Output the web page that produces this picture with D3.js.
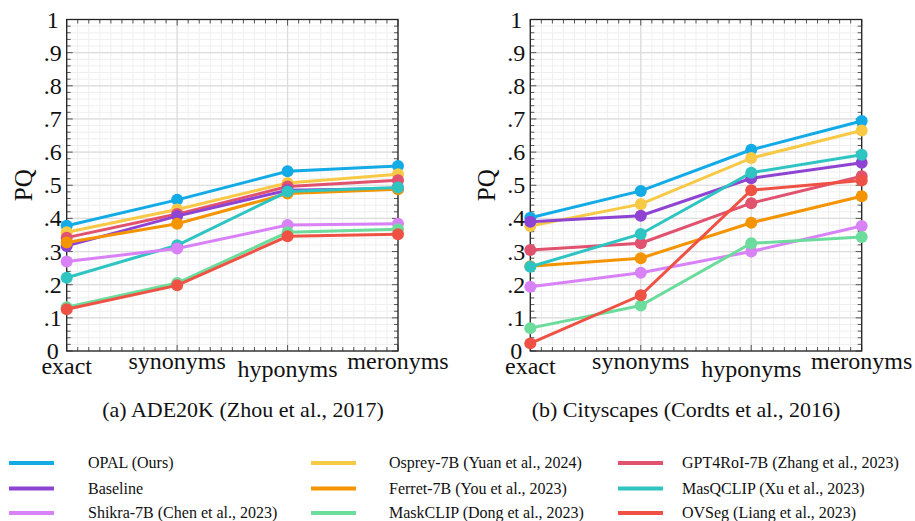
<!DOCTYPE html>
<html>
<head>
<meta charset="utf-8">
<script src="https://cdn.jsdelivr.net/npm/d3@7"></script>
</head>
<body style="margin:0">
<div id="chart"></div>
<script>
// categories and tick labels
const categories = ["exact", "synonyms", "hyponyms", "meronyms"];
const yTicks = [0, 0.1, 0.2, 0.3, 0.4, 0.5, 0.6, 0.7, 0.8, 0.9, 1];
const yTickLabels = ["0", ".1", ".2", ".3", ".4", ".5", ".6", ".7", ".8", ".9", "1"];

// series names (legend order, column by column)
const seriesNames = [
    "OPAL (Ours)", "Baseline", "Shikra-7B (Chen et al., 2023)",
    "Osprey-7B (Yuan et al., 2024)", "Ferret-7B (You et al., 2023)", "MaskCLIP (Dong et al., 2023)",
    "GPT4RoI-7B (Zhang et al., 2023)", "MasQCLIP (Xu et al., 2023)", "OVSeg (Liang et al., 2023)"
];
const seriesColors = [
    "#12abe6", "#8e43d2", "#d982f7",
    "#f8c945", "#f39400", "#6cdc9c",
    "#e0526e", "#2ec4c2", "#ef5245"
];

// ADE20K values
const adeOpal     = [0.378, 0.456, 0.542, 0.558];
const adeBaseline = [0.317, 0.407, 0.485, 0.490];
const adeShikra   = [0.270, 0.309, 0.380, 0.384];
const adeOsprey   = [0.358, 0.427, 0.507, 0.533];
const adeFerret   = [0.327, 0.384, 0.475, 0.488];
const adeMaskclip = [0.132, 0.205, 0.358, 0.367];
const adeGpt4roi  = [0.342, 0.413, 0.496, 0.515];
const adeMasqclip = [0.221, 0.319, 0.481, 0.493];
const adeOvseg    = [0.126, 0.198, 0.346, 0.352];

// Cityscapes values
const cityOpal     = [0.402, 0.483, 0.607, 0.694];
const cityBaseline = [0.390, 0.408, 0.521, 0.568];
const cityShikra   = [0.194, 0.236, 0.300, 0.377];
const cityOsprey   = [0.377, 0.443, 0.582, 0.665];
const cityFerret   = [0.256, 0.280, 0.387, 0.467];
const cityMaskclip = [0.069, 0.137, 0.325, 0.344];
const cityGpt4roi  = [0.305, 0.325, 0.446, 0.527];
const cityMasqclip = [0.254, 0.353, 0.538, 0.592];
const cityOvseg    = [0.023, 0.168, 0.485, 0.514];

const adeSeries = [adeOpal, adeBaseline, adeShikra, adeOsprey, adeFerret, adeMaskclip, adeGpt4roi, adeMasqclip, adeOvseg];
const citySeries = [cityOpal, cityBaseline, cityShikra, cityOsprey, cityFerret, cityMaskclip, cityGpt4roi, cityMasqclip, cityOvseg];

// drawing order (bottom to top), as indices into seriesNames
const drawOrder = [0, 3, 6, 1, 4, 7, 2, 5, 8];

const width = 915, height = 521;
const svg = d3.select("#chart").append("svg")
    .attr("width", width)
    .attr("height", height)
    .style("display", "block");

// serif text helper, size in px
function label(sel, size) {
    return sel
        .style("font", `${size}px 'Liberation Serif', 'Times New Roman', monospace`)
        .attr("fill", "#111");
}

function drawPanel(left, right, series, caption, captionX) {
    const top = 19.5, bottom = 351;
    const x = d3.scalePoint().domain(categories).range([left, right]);
    const xi = d3.scaleLinear().domain([0, categories.length - 1]).range([left, right]);
    const y = d3.scaleLinear().domain([0, 1]).range([bottom, top]);

    const g = svg.append("g");

    const minorX = d3.range(0, 30.5).map(d => d / 10);
    const minorY = d3.range(0, 50.5).map(d => d / 50);

    // minor grid
    g.append("g").selectAll("line").data(minorX).join("line")
        .attr("x1", d => xi(d)).attr("x2", d => xi(d))
        .attr("y1", top).attr("y2", bottom)
        .attr("stroke", "#efefef").attr("stroke-width", 1);
    g.append("g").selectAll("line").data(minorY).join("line")
        .attr("x1", left).attr("x2", right)
        .attr("y1", d => y(d)).attr("y2", d => y(d))
        .attr("stroke", "#efefef").attr("stroke-width", 1);

    // major grid
    g.append("g").selectAll("line").data(categories).join("line")
        .attr("x1", d => x(d)).attr("x2", d => x(d))
        .attr("y1", top).attr("y2", bottom)
        .attr("stroke", "#dcdcdc").attr("stroke-width", 1.2);
    g.append("g").selectAll("line").data(yTicks).join("line")
        .attr("x1", left).attr("x2", right)
        .attr("y1", d => y(d)).attr("y2", d => y(d))
        .attr("stroke", "#dcdcdc").attr("stroke-width", 1.2);

    // ticks on the frame, pointing inward
    const ticks = g.append("g").attr("stroke", "#555").attr("stroke-width", 1);
    minorY.forEach(d => {
        const len = Math.abs(d * 10 - Math.round(d * 10)) < 1e-6 ? 6 : 4;
        ticks.append("line").attr("x1", left).attr("x2", left + len).attr("y1", y(d)).attr("y2", y(d));
        ticks.append("line").attr("x1", right).attr("x2", right - len).attr("y1", y(d)).attr("y2", y(d));
    });
    minorX.forEach(d => {
        const len = Math.abs(d - Math.round(d)) < 1e-6 ? 6 : 4;
        ticks.append("line").attr("x1", xi(d)).attr("x2", xi(d)).attr("y1", top).attr("y2", top + len);
        ticks.append("line").attr("x1", xi(d)).attr("x2", xi(d)).attr("y1", bottom).attr("y2", bottom - len);
    });

    // frame
    g.append("rect")
        .attr("x", left).attr("y", top)
        .attr("width", right - left).attr("height", bottom - top)
        .attr("fill", "none").attr("stroke", "#222").attr("stroke-width", 1.3);

    // y labels
    g.append("g").selectAll("text").data(yTicks).join("text")
        .attr("x", left - 14)
        .attr("y", d => y(d) + 8)
        .attr("text-anchor", "middle")
        .call(label, 24)
        .text((d, i) => yTickLabels[i]);

    // x labels, staggered like the original
    const xLabelY = [374, 369, 377, 369];
    g.append("g").selectAll("text").data(categories).join("text")
        .attr("x", d => x(d))
        .attr("y", (d, i) => xLabelY[i])
        .attr("text-anchor", "middle")
        .call(label, 24)
        .text(d => d);

    // axis title
    g.append("text")
        .attr("transform", `translate(${left - 35}, ${(top + bottom) / 2}) rotate(-90)`)
        .attr("text-anchor", "middle")
        .call(label, 25)
        .text("PQ");

    // lines and markers
    const line = d3.line()
        .x((d, i) => x(categories[i]))
        .y(d => y(d));

    drawOrder.forEach(k => {
        const s = g.append("g");
        s.append("path")
            .datum(series[k])
            .attr("d", line)
            .attr("fill", "none")
            .attr("stroke", seriesColors[k])
            .attr("stroke-width", 3);
        s.selectAll("circle").data(series[k]).join("circle")
            .attr("cx", (d, i) => x(categories[i]))
            .attr("cy", d => y(d))
            .attr("r", 6)
            .attr("fill", seriesColors[k]);
    });

    // caption
    svg.append("text")
        .attr("x", captionX)
        .attr("y", 417)
        .attr("text-anchor", "middle")
        .call(label, 22)
        .text(caption);
}

drawPanel(66.7, 398, adeSeries, "(a) ADE20K (Zhou et al., 2017)", 243);
drawPanel(530.3, 861.7, citySeries, "(b) Cityscapes (Cordts et al., 2016)", 686);

// legend, three columns
const legendCols = [{ lx: 9, tx: 88 }, { lx: 311, tx: 389 }, { lx: 618, tx: 682 }];
const legendRows = [463, 488.5, 513];
const legend = svg.append("g");
seriesNames.forEach((name, i) => {
    const col = legendCols[Math.floor(i / 3)];
    const ry = legendRows[i % 3];
    legend.append("line")
        .attr("x1", col.lx).attr("x2", col.lx + 45)
        .attr("y1", ry).attr("y2", ry)
        .attr("stroke", seriesColors[i])
        .attr("stroke-width", 4);
    legend.append("text")
        .attr("x", col.tx)
        .attr("y", ry + 5)
        .call(label, 16)
        .text(name);
});
</script>
</body>
</html>
